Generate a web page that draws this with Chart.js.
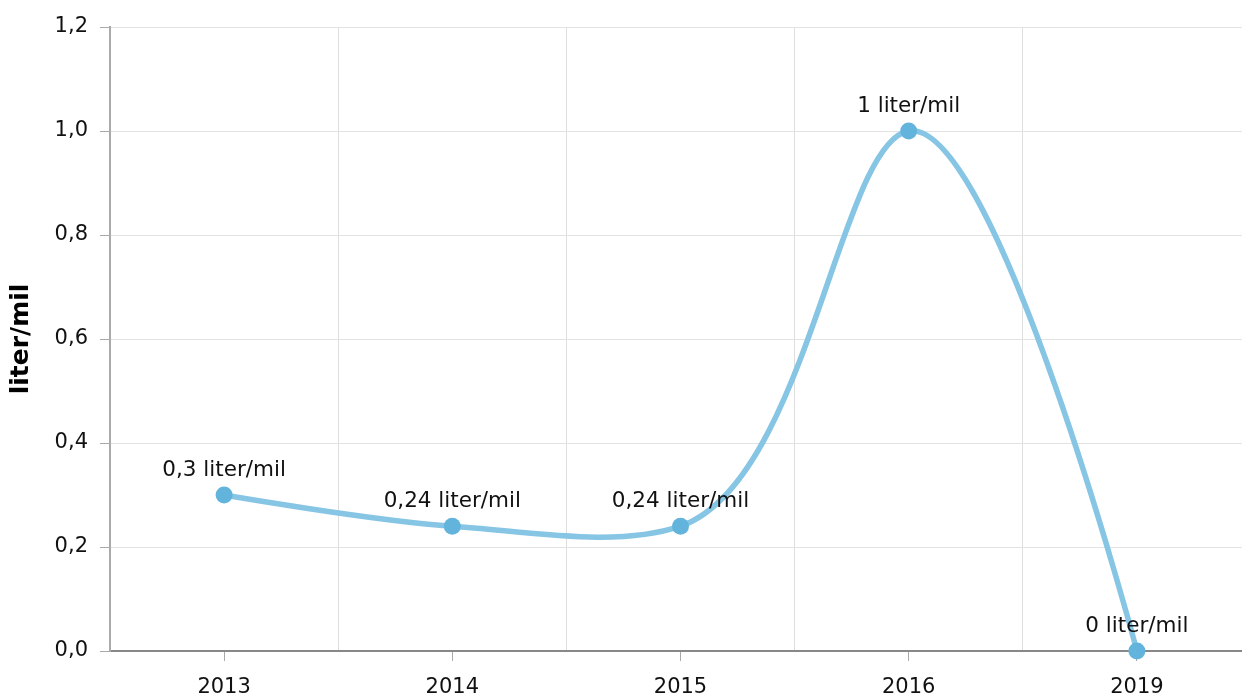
<!DOCTYPE html>
<html>
<head>
<meta charset="utf-8">
<script src="https://cdn.jsdelivr.net/npm/chart.js@4.4.1/dist/chart.umd.min.js"></script>
<style>
html,body{margin:0;padding:0;background:#fff;overflow:hidden;}
#wrap{width:1242px;height:698px;position:relative;overflow:hidden;}
</style>
</head>
<body>
<div id="wrap"><canvas id="c" width="1251" height="698"></canvas></div>
<script>
const categories = ["2013", "2014", "2015", "2016", "2019"];
const values = [0.3, 0.24, 0.24, 1, 0];
const pointLabels = ["0,3 liter/mil", "0,24 liter/mil", "0,24 liter/mil", "1 liter/mil", "0 liter/mil"];
const yTitle = "liter/mil";

const FONT = "'DejaVu Sans', Verdana, sans-serif";

// Catmull-Rom (chordal) control points applied to the library's own line element points
const splinePlugin = {
  id: 'crSpline',
  beforeDatasetsDraw(chart) {
    const alpha = 1;
    chart.data.datasets.forEach((ds, di) => {
      const meta = chart.getDatasetMeta(di);
      const line = meta.dataset;
      if (!line) return;
      line.updateControlPoints(chart.chartArea, 'x');
      const P = meta.data;
      const n = P.length;
      const dist = (a, b) => Math.hypot(b.x - a.x, b.y - a.y);
      for (let i = 0; i < n; i++) {
        const p = P[i];
        if (i === 0 || i === n - 1) {
          p.cp1x = p.x; p.cp1y = p.y;
          p.cp2x = p.x; p.cp2y = p.y;
          continue;
        }
        const p0 = P[i - 1], p2 = P[i + 1];
        const dA = dist(p0, p), dB = dist(p, p2);
        const la = Math.pow(dA, alpha), la2 = Math.pow(dA, 2 * alpha);
        const lb = Math.pow(dB, alpha), lb2 = Math.pow(dB, 2 * alpha);
        // outgoing control (segment i -> i+1)
        const a = 2 * la2 + 3 * la * lb + lb2;
        const nn = 3 * la * (la + lb);
        p.cp2x = (p.x * a - p0.x * lb2 + p2.x * la2) / nn;
        p.cp2y = (p.y * a - p0.y * lb2 + p2.y * la2) / nn;
        // incoming control (segment i-1 -> i)
        const b = 2 * lb2 + 3 * lb * la + la2;
        const m = 3 * lb * (lb + la);
        p.cp1x = (p.x * b + p0.x * lb2 - p2.x * la2) / m;
        p.cp1y = (p.y * b + p0.y * lb2 - p2.y * la2) / m;
      }
    });
  }
};

const labelPlugin = {
  id: 'pointLabels',
  afterDatasetsDraw(chart) {
    const ctx = chart.ctx;
    const meta = chart.getDatasetMeta(0);
    ctx.save();
    ctx.font = "21.5px " + FONT;
    ctx.fillStyle = "#111";
    ctx.textAlign = "center";
    ctx.textBaseline = "middle";
    meta.data.forEach((pt, i) => {
      ctx.fillText(pointLabels[i], pt.x, pt.y - 25);
    });
    ctx.restore();
  }
};

new Chart(document.getElementById('c'), {
  type: 'line',
  data: {
    labels: categories,
    datasets: [{
      data: values,
      borderColor: '#86c5e4',
      borderWidth: 5.5,
      tension: 0.4,
      pointRadius: 8.5,
      pointHoverRadius: 8.5,
      pointBackgroundColor: '#63b4dc',
      pointBorderColor: '#63b4dc',
      pointBorderWidth: 0,
      fill: false,
      clip: false
    }]
  },
  options: {
    responsive: false,
    animation: false,
    layout: { autoPadding: false, padding: { top: 27, right: 0, left: 0, bottom: 0 } },
    plugins: { legend: { display: false }, tooltip: { enabled: false } },
    scales: {
      x: {
        type: 'category',
        offset: true,
        grid: { offset: false, drawOnChartArea: false, drawTicks: true, tickLength: 10, color: '#aaa' },
        border: { color: '#888', width: 2 },
        ticks: { font: { family: FONT, size: 21 }, color: '#111', padding: 14, maxRotation: 0 },
        afterFit(s) { s.height = 47; }
      },
      x2: {
        type: 'category',
        position: 'bottom',
        offset: true,
        labels: categories,
        grid: { offset: true, drawTicks: false, color: '#dedede' },
        border: { display: false },
        ticks: { display: false },
        afterFit(s) { s.height = 0; }
      },
      y: {
        min: 0, max: 1.2,
        ticks: {
          stepSize: 0.2,
          font: { family: FONT, size: 21 }, color: '#111', padding: 12,
          callback: v => v.toFixed(1).replace('.', ',')
        },
        grid: { color: '#e3e3e3', tickLength: 10, tickColor: '#aaa' },
        border: { color: '#aaa', width: 2 },
        title: { display: true, text: yTitle, font: { family: FONT, size: 25, weight: 'bold' }, color: '#000', padding: { top: 6, bottom: 0 } },
        afterFit(s) { s.width = 110; }
      }
    }
  },
  plugins: [splinePlugin, labelPlugin]
});
</script>
</body>
</html>
